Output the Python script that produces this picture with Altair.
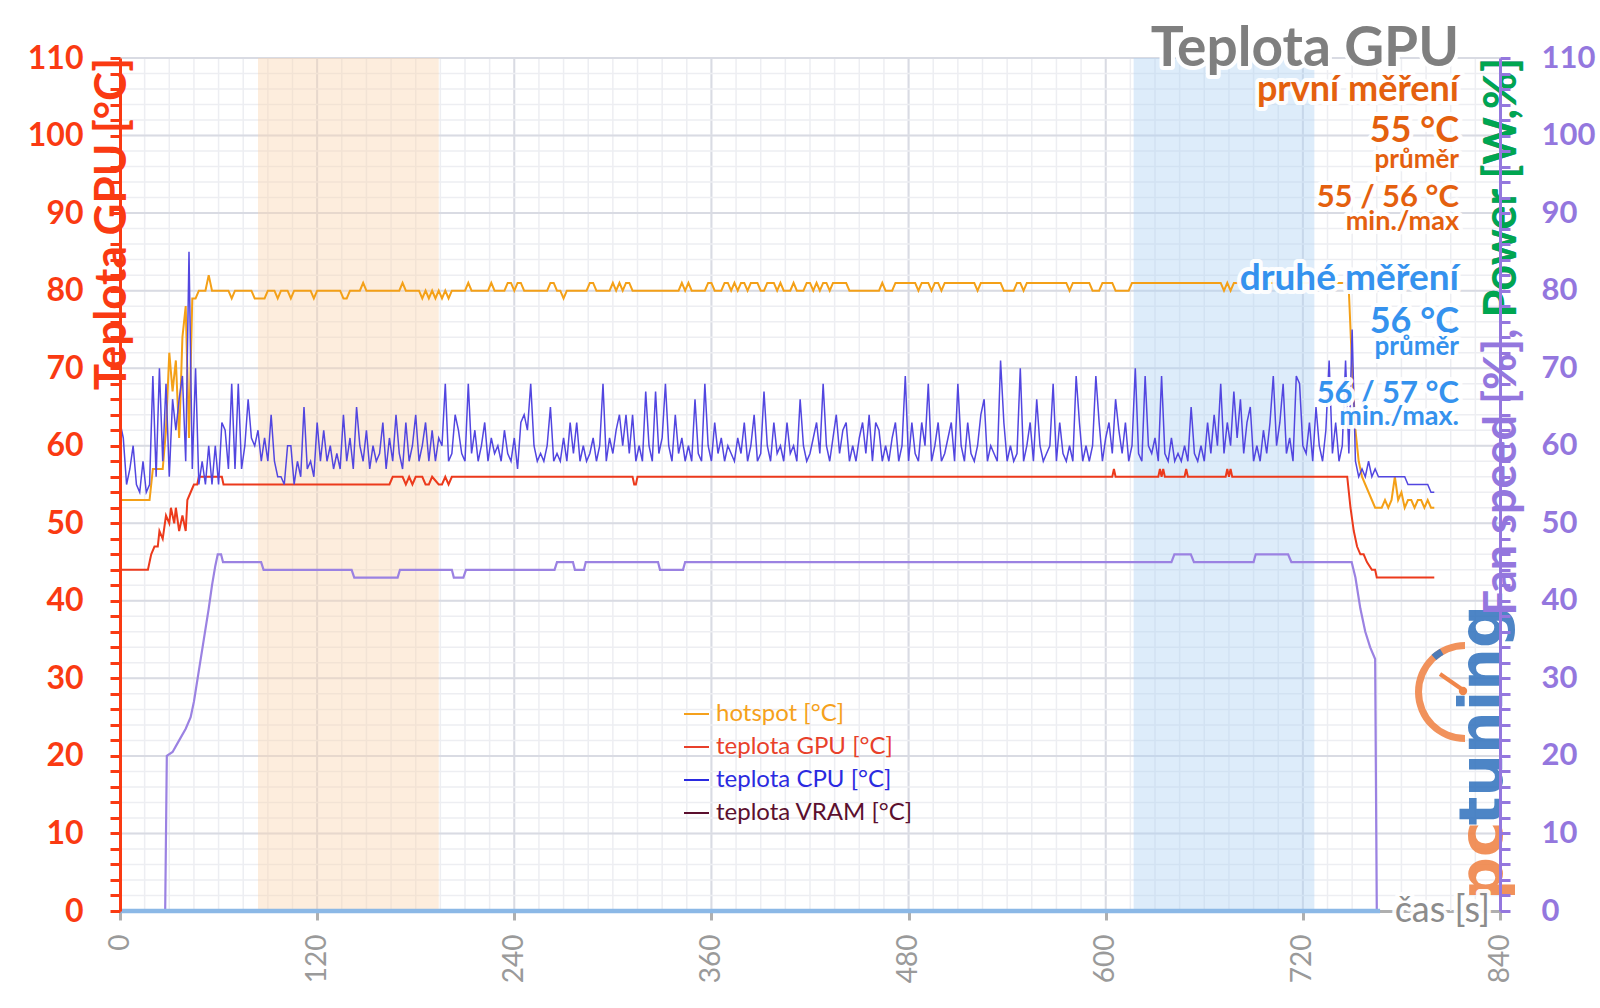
import math
import altair as alt
import pandas as pd

# ---------------- values ----------------
SAMPLE_STEP = 2  # seconds between the samples of the dense series

HOTSPOT = [
    53, 53, 53, 53, 53, 53, 53, 53, 53, 53,
    57, 57, 57, 57, 62, 72, 67, 71, 61, 74,
    78, 61, 79, 79, 80, 80, 80, 82, 80, 80,
    80, 80, 80, 80, 79, 80, 80, 80, 80, 80,
    80, 79, 79, 79, 79, 80, 80, 80, 79, 80,
    80, 80, 79, 80, 80, 80, 80, 80, 80, 79,
    80, 80, 80, 80, 80, 80, 80, 80, 79, 79,
    80, 80, 80, 80, 81, 80, 80, 80, 80, 80,
    80, 80, 80, 80, 80, 80, 81, 80, 80, 80,
    80, 80, 79, 80, 79, 80, 79, 80, 79, 80,
    79, 80, 80, 80, 80, 80, 81, 80, 80, 80,
    80, 80, 80, 81, 80, 80, 80, 80, 81, 81,
    80, 81, 81, 80, 80, 80, 80, 80, 80, 80,
    80, 81, 81, 80, 80, 79, 80, 80, 80, 80,
    80, 80, 80, 81, 81, 80, 80, 80, 80, 80,
    81, 80, 81, 80, 81, 81, 80, 80, 80, 80,
    80, 80, 80, 80, 80, 80, 80, 80, 80, 80,
    80, 81, 80, 81, 80, 80, 80, 80, 80, 81,
    81, 80, 80, 80, 81, 81, 80, 81, 80, 81,
    81, 80, 81, 81, 81, 80, 80, 81, 81, 81,
    80, 81, 80, 80, 80, 81, 80, 80, 80, 81,
    81, 80, 81, 80, 81, 81, 80, 81, 81, 81,
    81, 81, 80, 80, 80, 80, 80, 80, 80, 80,
    80, 80, 81, 80, 80, 80, 81, 81, 81, 81,
    81, 81, 81, 80, 81, 81, 81, 80, 81, 81,
    80, 81, 81, 81, 81, 81, 81, 81, 81, 81,
    81, 80, 81, 81, 81, 81, 81, 81, 81, 80,
    80, 80, 80, 81, 81, 80, 81, 81, 81, 81,
    81, 81, 81, 81, 81, 81, 81, 81, 81, 80,
    81, 81, 81, 81, 81, 81, 80, 80, 80, 81,
    81, 81, 81, 80, 80, 80, 80, 80, 81, 81,
    81, 81, 81, 81, 81, 81, 81, 81, 81, 81,
    81, 81, 81, 81, 81, 81, 81, 81, 81, 81,
    81, 81, 81, 81, 81, 81, 80, 81, 80, 81,
    81, 81, 81, 81, 81, 81, 81, 81, 81, 81,
    81, 81, 81, 80, 81, 81, 81, 81, 81, 81,
    81, 81, 81, 81, 81, 81, 81, 81, 81, 81,
    81, 81, 81, 81, 80, 70, 62, 58, 56, 55,
    54, 53, 52, 52, 52, 53, 52, 53, 56, 53,
    54, 52, 53, 53, 52, 53, 53, 52, 53, 52,
    52,
]

CPU = [
    63, 61, 55, 57, 60, 55, 54, 58, 54, 55,
    69, 56, 70, 58, 68, 56, 66, 62, 66, 69,
    58, 85, 57, 70, 55, 58, 55, 60, 55, 60,
    55, 63, 62, 57, 68, 57, 68, 57, 60, 66,
    61, 60, 62, 58, 61, 58, 64, 58, 56, 56,
    55, 60, 60, 55, 58, 56, 65, 57, 58, 56,
    63, 58, 62, 58, 60, 57, 59, 57, 64, 58,
    61, 57, 65, 60, 58, 62, 57, 60, 58, 59,
    63, 57, 61, 58, 64, 59, 57, 63, 58, 60,
    64, 58, 60, 63, 58, 62, 58, 61, 60, 68,
    58, 59, 64, 62, 59, 58, 68, 59, 62, 58,
    60, 63, 58, 61, 59, 60, 58, 62, 59, 58,
    61, 57, 63, 64, 62, 68, 60, 58, 59, 58,
    60, 65, 58, 59, 58, 61, 58, 63, 59, 63,
    58, 60, 58, 59, 61, 58, 60, 68, 58, 61,
    59, 62, 64, 60, 64, 59, 64, 58, 60, 58,
    67, 60, 58, 67, 59, 61, 68, 60, 58, 64,
    59, 61, 58, 60, 58, 66, 59, 58, 68, 60,
    58, 63, 59, 61, 58, 60, 59, 58, 61, 59,
    63, 58, 60, 64, 58, 59, 67, 60, 58, 63,
    59, 60, 58, 63, 59, 60, 58, 66, 60, 58,
    59, 61, 63, 59, 68, 60, 58, 61, 64, 59,
    62, 63, 58, 60, 58, 61, 63, 59, 64, 58,
    63, 62, 58, 60, 58, 61, 63, 58, 60, 69,
    58, 63, 59, 58, 63, 60, 68, 58, 60, 63,
    58, 59, 61, 63, 58, 68, 60, 58, 63, 59,
    58, 60, 64, 66, 58, 60, 59, 58, 71, 63,
    58, 60, 58, 59, 70, 58, 60, 63, 58, 66,
    60, 58, 59, 60, 68, 58, 63, 59, 58, 60,
    58, 69, 63, 58, 60, 58, 60, 69, 63, 58,
    61, 63, 59, 66, 62, 59, 63, 58, 60, 70,
    59, 58, 69, 60, 59, 61, 58, 69, 59, 58,
    61, 58, 59, 58, 60, 58, 65, 59, 58, 60,
    58, 63, 59, 64, 60, 68, 59, 63, 60, 67,
    61, 66, 59, 63, 65, 58, 60, 58, 62, 59,
    63, 69, 60, 63, 68, 59, 61, 58, 69, 68,
    60, 59, 63, 58, 65, 60, 58, 62, 71, 59,
    63, 58, 60, 71, 59, 75, 58, 56, 57, 56,
    58, 56, 57, 56, 56, 56, 56, 56, 56, 56,
    56, 56, 55, 55, 55, 55, 55, 55, 55, 54,
    54,
]

GPU_T = [0, 17, 18, 19, 21, 23, 24, 26, 28, 30,
         31, 33, 34, 36, 38, 40, 41, 43, 45, 47,
         48, 62, 63, 164, 166, 172, 174, 176, 178, 180,
         184, 186, 188, 190, 194, 196, 198, 200, 202, 312,
         313, 314, 315, 604, 605, 606, 632, 633, 634, 635,
         636, 648, 649, 650, 673, 674, 675, 676, 677, 678,
         747, 749, 751, 752, 753, 755, 757, 759, 762, 764,
         765, 800]
GPU_V = [44, 44, 45, 46, 47, 47, 49, 48, 51, 50,
         52, 50, 52, 49, 51, 49, 53, 54, 55, 55,
         56, 56, 55, 55, 56, 56, 55, 56, 55, 56,
         56, 55, 55, 56, 55, 55, 56, 55, 56, 56,
         55, 55, 56, 56, 57, 56, 56, 57, 56, 57,
         56, 56, 57, 56, 56, 57, 56, 57, 56, 56,
         56, 52, 49, 48, 47, 46, 46, 45, 44, 44,
         43, 43]

FAN_T = [0, 27.5, 28.5, 32, 36, 40, 43, 45, 48, 51,
         54, 56, 58, 59.5, 61.5, 62.7, 85.9, 87.4, 141, 142.6,
         169, 170.4, 202, 203.2, 209, 210.6, 264.5, 266, 275.7, 276.9,
         282.4, 283.5, 327.5, 328.7, 342.7, 344, 640, 641.8, 651.8, 653.7,
         690, 691.3, 711, 713, 749.7, 752, 755, 758, 761, 764,
         765, 766]
FAN_V = [0, 0, 20, 20.5, 22, 23.5, 25, 27, 31, 35,
         39, 42, 44.5, 46, 46, 45, 45, 44, 44, 43,
         43, 44, 44, 43, 43, 44, 44, 45, 45, 44,
         44, 45, 45, 44, 44, 45, 45, 46, 46, 45,
         45, 46, 46, 45, 45, 43, 39, 36, 34, 32.5,
         0, 0]

POWER_T = [0, 767]
POWER_V = [0, 0]

BAND_START = [84, 617]
BAND_END = [194, 727]
BAND_FILL = ["#FAD3AE", "#AED1F4"]

X_TICKS = [0, 120, 240, 360, 480, 600, 720, 840]
Y_TICKS = [0, 10, 20, 30, 40, 50, 60, 70, 80, 90, 100, 110]

LEGEND_NAMES = ["hotspot [°C]", "teplota GPU [°C]", "teplota CPU [°C]", "teplota VRAM [°C]"]
LEGEND_COLORS = ["#F5A11C", "#E8402A", "#2A2AE0", "#5B0F2E"]

# ---------------- styling ----------------
W, H = 1380, 853
FONT = "Lato"
RED = "#FA3A12"
PURPLE = "#9477DE"
GREEN = "#00A650"
ORANGE_TXT = "#E4600E"
BLUE_TXT = "#3592EE"
HOT_C, GPU_C, CPU_C, FAN_C, POW_C = "#F4A017", "#EC3A1C", "#5246E0", "#9B82E2", "#8BB8E6"
GRID_MAJOR, GRID_MINOR = "#D9DBE3", "#EDEEF2"

x_scale = alt.Scale(domain=[0, 840], nice=False, zero=False)
y_scale = alt.Scale(domain=[0, 110], nice=False, zero=False)
y2_scale = alt.Scale(domain=[0, 110], nice=False, zero=False)

x_axis = alt.Axis(values=X_TICKS, labelAngle=270, labelFont=FONT, labelFontSize=28,
                  labelColor="#9A9A9A", labelPadding=14, tickSize=9, tickWidth=3,
                  tickColor="#AFAFAF", domainColor="#AFAFAF", domainWidth=3, grid=False,
                  title=None, labelOverlap=False, labelFlush=False, zindex=0)
minor_y = list(range(0, 111, 2))
label_expr = "datum.value % 10 === 0 ? datum.label : ''"
left_axis = alt.Axis(orient="left", values=minor_y, labelExpr=label_expr, labelFont=FONT,
                     labelFontSize=32, labelFontWeight="bold", labelColor=RED, labelPadding=27,
                     tickSize=10, tickWidth=3, tickColor=RED, domainColor=RED, domainWidth=3,
                     grid=False, title=None, labelOverlap=False, labelFlush=False, zindex=1)
right_axis = alt.Axis(orient="right", values=minor_y, labelExpr=label_expr, labelFont=FONT,
                      labelFontSize=31, labelFontWeight="bold", labelColor=PURPLE, labelPadding=31,
                      tickSize=10, tickWidth=3, tickColor=PURPLE, domainColor=PURPLE, domainWidth=3,
                      grid=False, title=None, labelOverlap=False, labelFlush=False, zindex=1)


def X(f):
    return alt.X(f"{f}:Q", scale=x_scale, axis=x_axis)


def YL(f):
    return alt.Y(f"{f}:Q", scale=y_scale, axis=left_axis)


def YR(f):
    return alt.Y(f"{f}:Q", scale=y2_scale, axis=right_axis)


# grid
vminor = alt.Chart(pd.DataFrame({"gx": list(range(0, 841, 15))})).mark_rule(
    color=GRID_MINOR, strokeWidth=1.5).encode(x=X("gx"))
vmajor = alt.Chart(pd.DataFrame({"gx": X_TICKS[1:]})).mark_rule(
    color=GRID_MAJOR, strokeWidth=2).encode(x=X("gx"))
hminor = alt.Chart(pd.DataFrame({"gy": list(range(2, 111, 2))})).mark_rule(
    color=GRID_MINOR, strokeWidth=1.5).encode(y=YL("gy"))
hmajor = alt.Chart(pd.DataFrame({"gy": Y_TICKS[1:]})).mark_rule(
    color=GRID_MAJOR, strokeWidth=2).encode(y=YL("gy"))

band_df = pd.DataFrame({"start": BAND_START, "end": BAND_END,
                        "lo": [0, 0], "hi": [110, 110], "fill": BAND_FILL})
bands = alt.Chart(band_df).mark_rect(opacity=0.42).encode(
    x=X("start"), x2="end", y=YL("lo"), y2="hi", color=alt.Color("fill:N", scale=None))

hot_df = pd.DataFrame({"t": [i * SAMPLE_STEP for i in range(len(HOTSPOT))], "v": HOTSPOT})
cpu_df = pd.DataFrame({"t": [i * SAMPLE_STEP for i in range(len(CPU))], "v": CPU})
gpu_df = pd.DataFrame({"t": GPU_T, "v": GPU_V})
fan_df = pd.DataFrame({"t": FAN_T, "v": FAN_V})
pow_df = pd.DataFrame({"t": POWER_T, "v": POWER_V})

hot = alt.Chart(hot_df).mark_line(color=HOT_C, strokeWidth=2).encode(x=X("t"), y=YL("v"))
gpu = alt.Chart(gpu_df).mark_line(color=GPU_C, strokeWidth=2).encode(x=X("t"), y=YL("v"))
cpu = alt.Chart(cpu_df).mark_line(color=CPU_C, strokeWidth=1.5).encode(x=X("t"), y=YL("v"))
fan = alt.Chart(fan_df).mark_line(color=FAN_C, strokeWidth=2.2).encode(x=X("t"), y=YR("v"))
power = alt.Chart(pow_df).mark_line(color=POW_C, strokeWidth=4.5).encode(x=X("t"), y=YR("v"))

left_group = alt.layer(vminor, vmajor, hminor, hmajor, bands, hot, gpu, cpu)
right_group = alt.layer(fan, power)

one = pd.DataFrame({"k": [0]})


def txt(s, x, y, size, color, weight="bold", align="right", baseline="alphabetic",
        angle=None, halo=True, opacity=None, font=FONT):
    out = []
    kw = dict(text=s, font=font, fontSize=size, fontWeight=weight, align=align, baseline=baseline)
    if angle is not None:
        kw["angle"] = angle
    if halo:
        out.append(alt.Chart(one).mark_text(color="white", stroke="white", strokeWidth=8,
                                            strokeJoin="round", strokeOpacity=0.95, **kw)
                   .encode(x=alt.value(x), y=alt.value(y)))
    k2 = dict(kw)
    if opacity is not None:
        k2["opacity"] = opacity
    out.append(alt.Chart(one).mark_text(color=color, **k2).encode(x=alt.value(x), y=alt.value(y)))
    return out


texts = []
AX = 1339
texts += txt("Teplota GPU", AX, 8, 55, "#7F7F7F")
texts += txt("první měření", AX, 43, 36, ORANGE_TXT)
texts += txt("55 °C", AX, 84, 36, ORANGE_TXT)
texts += txt("průměr", AX, 110, 26, ORANGE_TXT)
texts += txt("55 / 56 °C", AX, 149, 31, ORANGE_TXT)
texts += txt("min./max", AX, 172, 27, ORANGE_TXT)
texts += txt("druhé měření", AX, 232, 37, BLUE_TXT)
texts += txt("56 °C", AX, 275, 36, BLUE_TXT)
texts += txt("průměr", AX, 297, 26, BLUE_TXT)
texts += txt("56 / 57 °C", AX, 345, 31, BLUE_TXT)
texts += txt("min./max.", AX, 367, 27, BLUE_TXT)

# axis titles
texts += txt("Teplota GPU [°C]", -7, 0, 44, RED, baseline="middle", angle=270, halo=False)
texts += txt("Fan speed [%], Power [W,%]", 1382, 0, 45, PURPLE, baseline="middle", angle=270, halo=False)
texts += txt("Power [W,%]", 1382, 0, 45, GREEN, baseline="middle", angle=270, halo=False)
texts += txt("čas [s]", 1370, 853, 36, "#8C8C8C", weight="normal", baseline="middle")

# legend
for i, (name, col) in enumerate(zip(LEGEND_NAMES, LEGEND_COLORS)):
    yy = 656 + 33 * i
    texts.append(alt.Chart(one).mark_rule(color=col, strokeWidth=2).encode(
        x=alt.value(564), x2=alt.value(589), y=alt.value(yy)))
    texts += txt(name, 596, yy, 24, col, weight="normal", align="left", baseline="middle", halo=False)

# watermark logo
logo = [
    alt.Chart(one).mark_arc(color="#F0864A", radius=50, radius2=43, opacity=0.9).encode(
        x=alt.value(1345), y=alt.value(634), theta=alt.value(math.pi), theta2=alt.value(2 * math.pi)),
    alt.Chart(one).mark_arc(color="#3A78C0", radius=50, radius2=43, opacity=0.9).encode(
        x=alt.value(1345), y=alt.value(634), theta=alt.value(5.55), theta2=alt.value(5.76)),
    alt.Chart(one).mark_rule(color="#F0864A", strokeWidth=4).encode(
        x=alt.value(1320), y=alt.value(616), x2=alt.value(1343), y2=alt.value(632)),
    alt.Chart(one).mark_point(color="#F0864A", filled=True, size=70, opacity=1).encode(
        x=alt.value(1343), y=alt.value(633)),
]
logo += txt("tuning", 1382, 547, 60, "#3A78C0", align="right", angle=270, halo=False,
            opacity=0.9, font="DejaVu Sans")
logo += txt("pc", 1382, 842, 60, "#F0864A", align="left", angle=270, halo=False,
            opacity=0.9, font="DejaVu Sans")

chart = alt.layer(left_group, right_group, *logo, *texts).resolve_scale(y="independent").properties(
    width=W, height=H,
    autosize=alt.AutoSizeParams(type="none"),
    padding={"left": 120, "top": 58, "right": 100, "bottom": 97},
    background="white",
).configure_view(stroke=None)

chart.save("out.html", embed_options={"renderer": "svg", "actions": False})
